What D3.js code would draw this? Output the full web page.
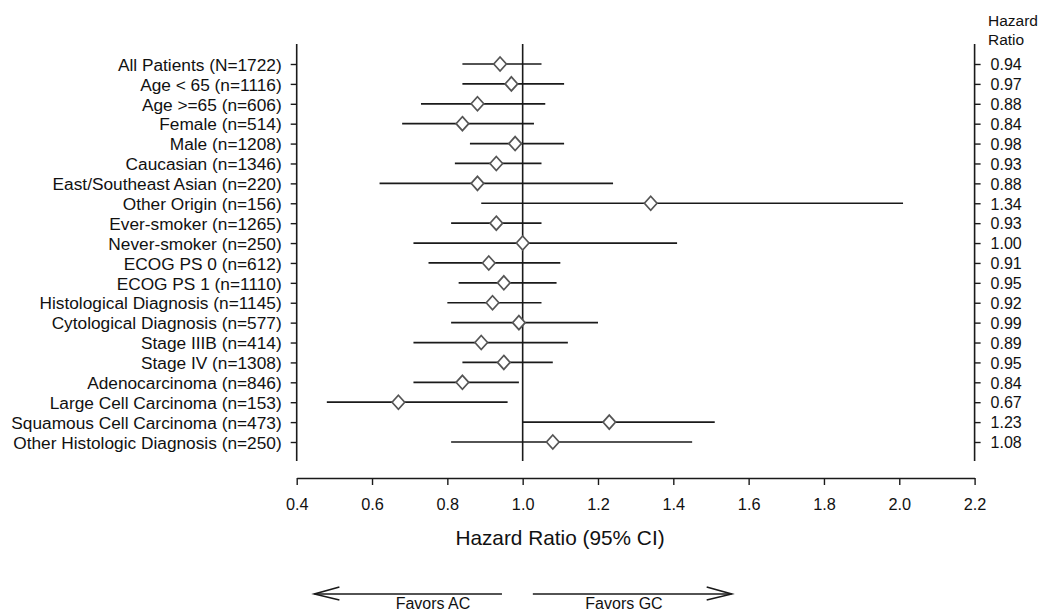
<!DOCTYPE html>
<html>
<head>
<meta charset="utf-8">
<script src="https://cdn.jsdelivr.net/npm/d3@7"></script>
<style>
  html, body { margin: 0; padding: 0; background: #fff; }
  svg { display: block; font-family: "Liberation Sans", Arial, sans-serif; }
</style>
</head>
<body>
<svg id="chart" width="1044" height="612"></svg>
<script>
const subgroups = [
  "All Patients (N=1722)", "Age < 65 (n=1116)", "Age >=65 (n=606)", "Female (n=514)",
  "Male (n=1208)", "Caucasian (n=1346)", "East/Southeast Asian (n=220)", "Other Origin (n=156)",
  "Ever-smoker (n=1265)", "Never-smoker (n=250)", "ECOG PS 0 (n=612)", "ECOG PS 1 (n=1110)",
  "Histological Diagnosis (n=1145)", "Cytological Diagnosis (n=577)", "Stage IIIB (n=414)",
  "Stage IV (n=1308)", "Adenocarcinoma (n=846)", "Large Cell Carcinoma (n=153)",
  "Squamous Cell Carcinoma (n=473)", "Other Histologic Diagnosis (n=250)"
];
const hazardRatio = [0.94, 0.97, 0.88, 0.84, 0.98, 0.93, 0.88, 1.34, 0.93, 1.00,
                     0.91, 0.95, 0.92, 0.99, 0.89, 0.95, 0.84, 0.67, 1.23, 1.08];
const lowerCI = [0.84, 0.84, 0.73, 0.68, 0.86, 0.82, 0.62, 0.89, 0.81, 0.71,
                 0.75, 0.83, 0.80, 0.81, 0.71, 0.84, 0.71, 0.48, 1.00, 0.81];
const upperCI = [1.05, 1.11, 1.06, 1.03, 1.11, 1.05, 1.24, 2.01, 1.05, 1.41,
                 1.10, 1.09, 1.05, 1.20, 1.12, 1.08, 0.99, 0.96, 1.51, 1.45];
const xTicks = [0.4, 0.6, 0.8, 1.0, 1.2, 1.4, 1.6, 1.8, 2.0, 2.2];
const xTitle = "Hazard Ratio (95% CI)";
const rightHeader = ["Hazard", "Ratio"];
const favorsLeft = "Favors AC";
const favorsRight = "Favors GC";

const svg = d3.select("#chart");
const ink = "#1a1a1a";

const x = d3.scaleLinear().domain([0.4, 2.2]).range([296.7, 974.6]);
const y = d3.scalePoint().domain(subgroups).range([64, 442]);
const plotTop = 44, plotBottom = 461;

// left axis (subgroup labels)
const leftAxis = svg.append("g").attr("transform", `translate(${x(0.4)},0)`)
  .call(d3.axisLeft(y).tickSize(6).tickPadding(9));
leftAxis.select(".domain").attr("d", `M0,${plotTop}V${plotBottom}`);
// right axis (hazard ratio values)
const hrText = d3.format(".2f");
const rightAxis = svg.append("g").attr("transform", `translate(${x(2.2)},0)`)
  .call(d3.axisRight(y).tickSize(6).tickPadding(10)
    .tickFormat(d => hrText(hazardRatio[subgroups.indexOf(d)])));
rightAxis.select(".domain").attr("d", `M0,${plotTop}V${plotBottom}`);

[leftAxis, rightAxis].forEach(g => {
  g.selectAll(".domain").attr("stroke", ink).attr("stroke-width", 1.6);
  g.selectAll(".tick line").attr("stroke", ink).attr("stroke-width", 1.4);
  g.selectAll("text").attr("fill", "#111").attr("font-family", "Liberation Sans, Arial, sans-serif");
});
leftAxis.selectAll("text").attr("font-size", 17.3).attr("dy", "0.36em");
rightAxis.selectAll("text").attr("font-size", 16).attr("dy", "0.36em");

// header over right axis
svg.append("g").selectAll("text").data(rightHeader).join("text")
  .attr("x", 988).attr("y", (d, i) => 26 + i * 19)
  .attr("font-size", 15.5).attr("fill", "#111").text(d => d);

// bottom x axis
const bottomAxis = svg.append("g").attr("transform", `translate(0,478)`)
  .call(d3.axisBottom(x).tickValues(xTicks).tickFormat(d3.format(".1f")).tickSize(7).tickPadding(13).tickSizeOuter(0));
bottomAxis.select(".domain").attr("stroke", ink).attr("stroke-width", 1.6);
bottomAxis.selectAll(".tick line").attr("stroke", ink).attr("stroke-width", 1.4);
bottomAxis.selectAll("text").attr("font-size", 16.3).attr("fill", "#111")
  .attr("font-family", "Liberation Sans, Arial, sans-serif");

// axis title
svg.append("text").attr("x", 560).attr("y", 544.5).attr("text-anchor", "middle")
  .attr("font-size", 20.8).attr("fill", "#111").text(xTitle);

// reference line at HR = 1
svg.append("line").attr("x1", x(1)).attr("x2", x(1)).attr("y1", plotTop).attr("y2", plotBottom)
  .attr("stroke", ink).attr("stroke-width", 1.6);

// CI lines
const rows = subgroups.map((s, i) => ({ s, hr: hazardRatio[i], lo: lowerCI[i], hi: upperCI[i] }));
svg.append("g").selectAll("line").data(rows).join("line")
  .attr("x1", d => x(d.lo)).attr("x2", d => x(d.hi))
  .attr("y1", d => y(d.s)).attr("y2", d => y(d.s))
  .attr("stroke", ink).attr("stroke-width", 1.7);

// diamonds
const dw = 6.3, dh = 7;
svg.append("g").selectAll("path").data(rows).join("path")
  .attr("d", d => {
    const cx = x(d.hr), cy = y(d.s);
    return `M${cx},${cy - dh}L${cx + dw},${cy}L${cx},${cy + dh}L${cx - dw},${cy}Z`;
  })
  .attr("fill", "#fff").attr("stroke", "#555").attr("stroke-width", 1.7);

// favors arrows
const arrowY = 594;
const arrows = svg.append("g").attr("stroke", ink).attr("stroke-width", 1.6).attr("fill", "none");
arrows.append("path").attr("d", `M${x(0.447)},${arrowY}H${x(0.945)}`);
arrows.append("path").attr("d", `M${x(0.447) + 25},${arrowY - 7}L${x(0.447)},${arrowY}L${x(0.447) + 25},${arrowY + 6}`);
arrows.append("path").attr("d", `M${x(1.027)},${arrowY}H${x(1.555)}`);
arrows.append("path").attr("d", `M${x(1.555) - 25},${arrowY - 7}L${x(1.555)},${arrowY}L${x(1.555) - 25},${arrowY + 6}`);

svg.append("text").attr("x", 433).attr("y", 609).attr("text-anchor", "middle")
  .attr("font-size", 16).attr("fill", "#111").text(favorsLeft);
svg.append("text").attr("x", 624).attr("y", 609).attr("text-anchor", "middle")
  .attr("font-size", 16).attr("fill", "#111").text(favorsRight);
</script>
</body>
</html>
